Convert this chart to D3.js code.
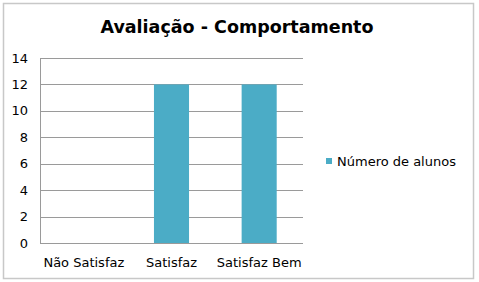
<!DOCTYPE html>
<html>
<head>
<meta charset="utf-8">
<script src="https://cdn.jsdelivr.net/npm/d3@7"></script>
<style>
  body { margin: 0; background: #fff; }
  text { font-family: "DejaVu Sans", sans-serif; fill: #000; }
</style>
</head>
<body>
<div class="chart__container"></div>
<script>
const categories = ["Não Satisfaz", "Satisfaz", "Satisfaz Bem"];
const values = [0, 12, 12];
const seriesName = "Número de alunos";
const yTicks = [0, 2, 4, 6, 8, 10, 12, 14];

function drawChart() {
  const W = 479, H = 282;
  const plot = { left: 40, right: 303, top: 58, bottom: 243 };

  const svg = d3
    .select(".chart__container")
    .append("svg")
    .attr("width", W)
    .attr("height", H);

  // outer frame
  svg.append("rect")
    .attr("x", 3.5).attr("y", 3.5)
    .attr("width", 470).attr("height", 275)
    .attr("fill", "#fff")
    .attr("stroke", "#c8c8c8")
    .attr("stroke-width", 1.5);

  svg.append("text")
    .attr("x", 237).attr("y", 33)
    .attr("text-anchor", "middle")
    .attr("font-size", "17.5px")
    .attr("font-weight", "bold")
    .text("Avaliação - Comportamento");

  const xScale = d3.scaleBand()
    .domain(categories)
    .range([plot.left, plot.right])
    .paddingInner(0.6)
    .paddingOuter(0.3);

  const yScale = d3.scaleLinear()
    .domain([0, 14])
    .range([plot.bottom, plot.top]);

  // gridlines
  svg.append("g")
    .selectAll("line")
    .data(yTicks)
    .enter()
    .append("line")
    .attr("x1", plot.left).attr("x2", plot.right)
    .attr("y1", (d) => Math.round(yScale(d)) + 0.5)
    .attr("y2", (d) => Math.round(yScale(d)) + 0.5)
    .attr("stroke", "#9a9a9a")
    .attr("stroke-width", 1);

  // left axis line
  svg.append("line")
    .attr("x1", plot.left + 0.5).attr("x2", plot.left + 0.5)
    .attr("y1", plot.top).attr("y2", plot.bottom)
    .attr("stroke", "#9a9a9a");

  // bars
  svg.append("g")
    .selectAll("rect")
    .data(values)
    .enter()
    .append("rect")
    .attr("x", (d, i) => xScale(categories[i]))
    .attr("width", xScale.bandwidth())
    .attr("y", (d) => yScale(d))
    .attr("height", (d) => yScale(0) - yScale(d))
    .attr("fill", "#4bacc6");

  // y labels
  svg.append("g")
    .selectAll("text")
    .data(yTicks)
    .enter()
    .append("text")
    .attr("x", plot.left - 12)
    .attr("y", (d) => yScale(d))
    .attr("dy", "0.35em")
    .attr("text-anchor", "end")
    .attr("font-size", "13px")
    .text((d) => d);

  // x labels
  svg.append("g")
    .selectAll("text")
    .data(categories)
    .enter()
    .append("text")
    .attr("x", (d) => xScale(d) + xScale.bandwidth() / 2)
    .attr("y", 262)
    .attr("dy", "0.35em")
    .attr("text-anchor", "middle")
    .attr("font-size", "13px")
    .text((d) => d);

  // legend
  svg.append("rect")
    .attr("x", 326).attr("y", 158)
    .attr("width", 6).attr("height", 6)
    .attr("fill", "#4bacc6");

  svg.append("text")
    .attr("x", 337).attr("y", 161)
    .attr("dy", "0.35em")
    .attr("font-size", "13px")
    .text(seriesName);
}

drawChart();
</script>
</body>
</html>
